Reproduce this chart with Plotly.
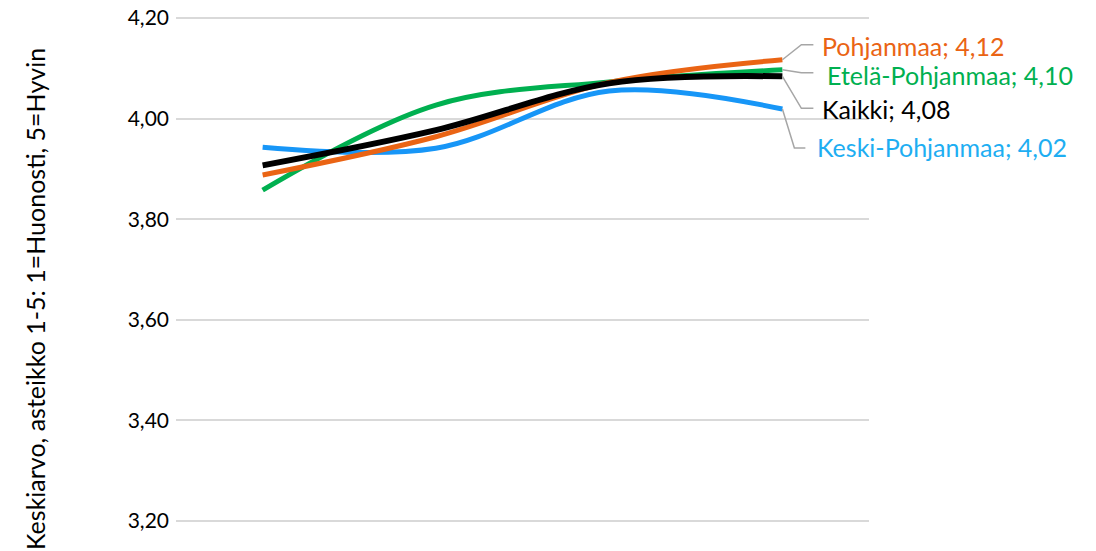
import plotly.graph_objects as go

categories = ["1", "2", "3", "4"]
keski_pohjanmaa = [3.943, 3.941, 4.055, 4.019]
etela_pohjanmaa = [3.858, 4.027, 4.073, 4.097]
pohjanmaa = [3.888, 3.964, 4.072, 4.117]
kaikki = [3.907, 3.977, 4.070, 4.084]
y_ticks = [3.2, 3.4, 3.6, 3.8, 4.0, 4.2]
y_title = "Keskiarvo, asteikko 1-5: 1=Huonosti, 5=Hyvin"

FONT = "Lato"
W, H = 1096, 551
L, R = 176, 869
px_per_unit = (521 - 18) / 1.0
y_top = 4.2 + 18 / px_per_unit
y_bot = 3.2 - (H - 521) / px_per_unit

series = [
    ("Keski-Pohjanmaa", keski_pohjanmaa, "#1796F7", "#1EAEF2", 5),
    ("Etelä-Pohjanmaa", etela_pohjanmaa, "#00B050", "#00B050", 5),
    ("Pohjanmaa", pohjanmaa, "#EA6414", "#EA6414", 5),
    ("Kaikki", kaikki, "#000000", "#000000", 6),
]

# leader geometry in pixels relative to the last point: elbow dx, elbow dy, end dx, text xshift, text yshift
label_geom = {
    "Pohjanmaa": (19, 15, 31, 38, 14),
    "Etelä-Pohjanmaa": (19, -3, 31, 43, -5),
    "Kaikki": (19, -32, 31, 38, -33),
    "Keski-Pohjanmaa": (12, -39, 23, 33, -38),
}

x_idx = list(range(len(categories)))
last = x_idx[-1]

fig = go.Figure()
shapes = []
annotations = []
for name, vals, lc, tc, lw in series:
    fig.add_trace(go.Scatter(
        x=x_idx, y=vals, mode="lines", name=name,
        line=dict(color=lc, width=lw, shape="spline", smoothing=1.0),
        showlegend=False, hoverinfo="skip",
    ))
    ex, ey, e2, tx, ty = label_geom[name]
    shapes.append(dict(
        type="path", xref="x", yref="y", xsizemode="pixel", ysizemode="pixel",
        xanchor=last, yanchor=vals[-1],
        path=f"M 0,0 L {ex},{ey} L {e2},{ey}",
        line=dict(color="#A6A6A6", width=1.5),
    ))
    annotations.append(dict(
        x=last, y=vals[-1], xref="x", yref="y",
        text=f"{name}; {vals[-1]:.2f}".replace(".", ","),
        showarrow=False, xanchor="left", yanchor="middle",
        xshift=tx, yshift=ty,
        font=dict(family=FONT, size=25, color=tc),
    ))

annotations.append(dict(
    x=(35 - L) / (R - L), y=1 - 299 / H, xref="paper", yref="paper",
    text=y_title, textangle=-90, showarrow=False,
    xanchor="center", yanchor="middle",
    font=dict(family=FONT, size=25, color="#000000"),
))

fig.update_layout(
    width=W, height=H,
    margin=dict(l=L, r=W - R, t=0, b=0),
    paper_bgcolor="white", plot_bgcolor="white",
    separators=", ",
    font=dict(family=FONT, size=20, color="#000000"),
    shapes=shapes,
    annotations=annotations,
    xaxis=dict(
        range=[-0.5, len(categories) - 0.5],
        tickvals=x_idx, ticktext=categories,
        showticklabels=False, showgrid=False, zeroline=False, showline=False, ticks="",
    ),
    yaxis=dict(
        range=[y_bot, y_top], tickvals=y_ticks, tickformat=".2f",
        showgrid=True, gridcolor="#D9D9D9", gridwidth=1.5,
        zeroline=False, showline=False, ticks="",
        ticklabelstandoff=6,
        tickfont=dict(family=FONT, size=21, color="#000000"),
    ),
)

fig.write_html("out.html", config={"displayModeBar": False},
               post_script="document.body.style.margin='0';")
